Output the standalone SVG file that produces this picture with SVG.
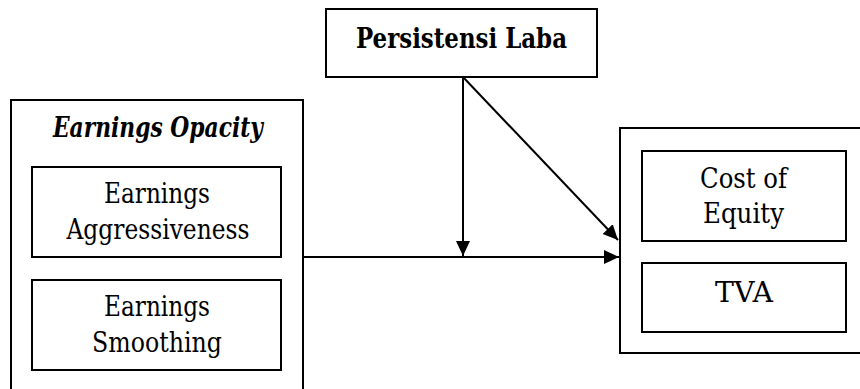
<svg xmlns="http://www.w3.org/2000/svg" width="860" height="389" viewBox="0 0 860 389">
<style>
.box{fill:#fff;stroke:#000;stroke-width:2}
text{font-family:'DejaVu Serif',serif;font-size:27px;fill:#000;text-anchor:middle}
.b{font-weight:bold}
.bi{font-weight:bold;font-style:italic}
.c{stroke:#000;stroke-width:2;fill:none}
</style>
<defs>
<marker id="ah" markerUnits="userSpaceOnUse" markerWidth="16" markerHeight="16" viewBox="0 0 16 16" refX="15" refY="8" orient="auto">
<path d="M0,1 L15,8 L0,15 Z" fill="#000"/>
</marker>
</defs>
<rect width="860" height="389" fill="#fff"/>
<g id="earnings-opacity">
<rect class="box" x="11" y="100" width="292" height="300"/>
<text class="bi" x="158" y="137" textLength="210" lengthAdjust="spacingAndGlyphs">Earnings Opacity</text>
</g>
<g id="earnings-aggressiveness">
<rect class="box" x="32" y="167" width="249" height="90"/>
<text x="157" y="203" textLength="106" lengthAdjust="spacingAndGlyphs">Earnings</text>
<text x="158" y="239" textLength="183" lengthAdjust="spacingAndGlyphs">Aggressiveness</text>
</g>
<g id="earnings-smoothing">
<rect class="box" x="32" y="280" width="249" height="90"/>
<text x="157" y="316" textLength="106" lengthAdjust="spacingAndGlyphs">Earnings</text>
<text x="157" y="352" textLength="130" lengthAdjust="spacingAndGlyphs">Smoothing</text>
</g>
<g id="persistensi-laba">
<rect class="box" x="326" y="9" width="271" height="68"/>
<text class="b" x="461.5" y="48" textLength="211" lengthAdjust="spacingAndGlyphs">Persistensi Laba</text>
</g>
<g id="dependent">
<rect class="box" x="620" y="128" width="260" height="225"/>
</g>
<g id="cost-of-equity">
<rect class="box" x="642" y="151" width="204" height="90"/>
<text x="743.5" y="188" textLength="87" lengthAdjust="spacingAndGlyphs">Cost of</text>
<text x="743.5" y="223" textLength="81" lengthAdjust="spacingAndGlyphs">Equity</text>
</g>
<g id="tva">
<rect class="box" x="642" y="263" width="204" height="69"/>
<text x="744" y="302" textLength="58" lengthAdjust="spacingAndGlyphs">TVA</text>
</g>
<g id="connectors">
<line class="c" x1="303" y1="257" x2="619" y2="257" marker-end="url(#ah)"/>
<line class="c" x1="463" y1="77" x2="463" y2="256" marker-end="url(#ah)"/>
<line class="c" x1="463" y1="77" x2="618" y2="240" marker-end="url(#ah)"/>
</g>
</svg>
